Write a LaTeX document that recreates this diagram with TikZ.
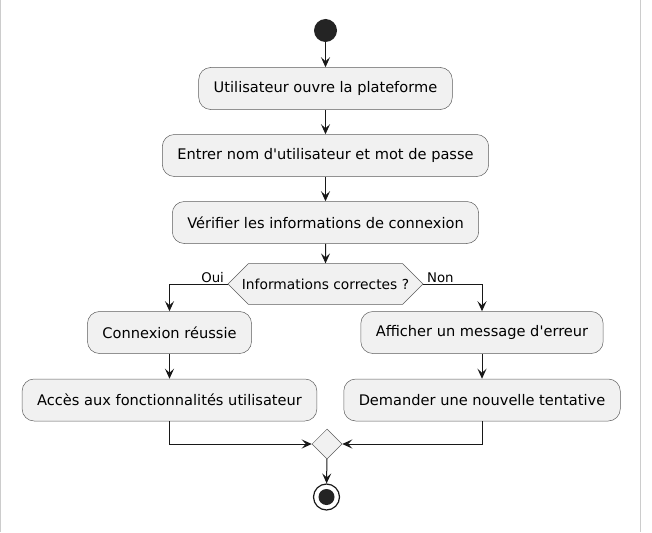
\documentclass[tikz,border=0pt]{standalone}
\usepackage{fontspec}
\setmainfont{DejaVu Sans}[Ligatures=TeXOff]
\usetikzlibrary{shapes.misc, arrows.meta}
\definecolor{boxfill}{HTML}{F1F1F1}
\definecolor{boxline}{HTML}{181818}
\tikzstyle{startstop} = [circle, fill=boxline!95, draw=none, minimum size=23pt, inner sep=0pt]
\tikzstyle{process} = [rectangle, rounded corners=12pt, minimum height=42pt, inner xsep=15pt, text centered, draw=boxline!70, line width=0.5pt, fill=boxfill, font=\fontsize{14.6pt}{16pt}\selectfont]
\tikzstyle{decision} = [chamfered rectangle, chamfered rectangle xsep=14pt, chamfered rectangle ysep=15pt, minimum width=195pt, minimum height=30pt, inner sep=0pt, text centered, draw=boxline!70, line width=0.5pt, fill=boxfill, font=\fontsize{13.8pt}{15pt}\selectfont]
\tikzstyle{merge} = [diamond, aspect=1, minimum size=30pt, inner sep=0pt, draw=boxline!70, line width=0.5pt, fill=boxfill]
\tikzstyle{branch} = [font=\fontsize{13.3pt}{15pt}\selectfont, inner sep=1pt]
\tikzstyle{arrow} = [line width=1pt, draw=boxline, -{Stealth[length=10pt, width=9pt, inset=4pt]}]
\usetikzlibrary{shapes.geometric}
\begin{document}
\begin{tikzpicture}[x=1pt, y=-1pt]
    \useasboundingbox (0,0) rectangle (652,532);
    \draw [gray!40, line width=1pt] (0.5,0) -- (0.5,532);
    \draw [gray!40, line width=1pt] (640.5,0) -- (640.5,532);

    \node [startstop] at (325.5,30.5) (start) {};
    \node [process] at (325.5,88.5) (process1) {Utilisateur ouvre la plateforme};
    \node [process] at (325.5,155.5) (process2) {Entrer nom d'utilisateur et mot de passe};
    \node [process] at (325.5,222.5) (process3) {Vérifier les informations de connexion};
    \node [decision] at (325.5,284) (decision1) {Informations correctes ?};
    \node [process] at (169.5,332.5) (process4) {Connexion réussie};
    \node [process] at (169.5,400) (process5) {Accès aux fonctionnalités utilisateur};
    \node [process] at (482,332.5) (process6) {Afficher un message d'erreur};
    \node [process] at (482,400) (process7) {Demander une nouvelle tentative};
    \node [merge] at (327,444) (merge1) {};
    \node [circle, draw=boxline, line width=1.2pt, fill=white, minimum size=26pt, inner sep=0pt] at (326.5,497) (stop) {};
    \node [circle, fill=boxline!95, minimum size=16pt, inner sep=0pt] at (stop) (stopdot) {};

    \draw [arrow] (start) -- (process1);
    \draw [arrow] (process1) -- (process2);
    \draw [arrow] (process2) -- (process3);
    \draw [arrow] (process3) -- (decision1);
    \draw [arrow] (decision1.west) -| node[branch, anchor=south east, pos=0.02] {Oui} (process4);
    \draw [arrow] (decision1.east) -| node[branch, anchor=south west, pos=0.02] {Non} (process6);
    \draw [arrow] (process4) -- (process5);
    \draw [arrow] (process6) -- (process7);
    \draw [arrow] (process5) |- (merge1);
    \draw [arrow] (process7) |- (merge1);
    \draw [arrow] (merge1) -- (stop);
    \end{tikzpicture}
\end{document}
